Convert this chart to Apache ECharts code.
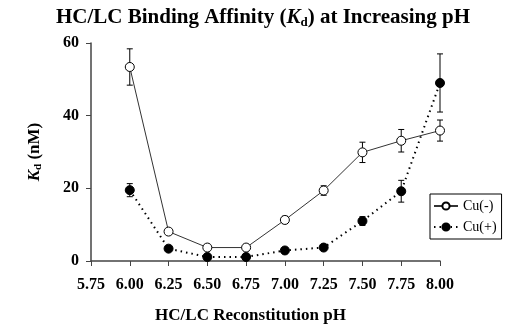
<!DOCTYPE html>
<html>
<head>
<meta charset="utf-8">
<script src="https://cdn.jsdelivr.net/npm/echarts@6/dist/echarts.min.js"></script>
<style>
  html, body { margin: 0; padding: 0; background: #fff; }
  #chart { width: 520px; height: 335px; }
</style>
</head>
<body>
<div id="chart"></div>
<script>
// pH values
var phList = [6.00, 6.25, 6.50, 6.75, 7.00, 7.25, 7.50, 7.75, 8.00];
// Kd (nM) without copper
var cuMinus = [53.4, 8.1, 3.7, 3.7, 11.3, 19.4, 29.9, 33.1, 35.9];
var cuMinusErr = [5.0, 0.6, 0.3, 0.3, 1.0, 1.3, 2.8, 3.1, 2.9];
// Kd (nM) with copper
var cuPlus = [19.5, 3.4, 1.1, 1.1, 2.9, 3.7, 11.0, 19.2, 49.0];
var cuPlusErr = [1.8, 0.3, 0.2, 0.2, 0.3, 0.3, 1.2, 3.0, 8.0];
var yTicks = [0, 20, 40, 60];

var serif = 'Liberation Serif';

function errData(vals, errs) {
  var out = [];
  for (var i = 0; i < phList.length; i++) {
    out.push([phList[i], vals[i] - errs[i], vals[i] + errs[i]]);
  }
  return out;
}

function renderErr(params, api) {
  var lo = api.coord([api.value(0), api.value(1)]);
  var hi = api.coord([api.value(0), api.value(2)]);
  var w = 3;
  var st = { stroke: '#000', lineWidth: 1 };
  return {
    type: 'group',
    children: [
      { type: 'line', shape: { x1: lo[0], y1: lo[1], x2: hi[0], y2: hi[1] }, style: st },
      { type: 'line', shape: { x1: lo[0] - w, y1: lo[1], x2: lo[0] + w, y2: lo[1] }, style: st },
      { type: 'line', shape: { x1: hi[0] - w, y1: hi[1], x2: hi[0] + w, y2: hi[1] }, style: st }
    ]
  };
}

function pairs(vals) {
  return phList.map(function (p, i) { return [p, vals[i]]; });
}

var myChart = echarts.init(document.getElementById('chart'));
var option = {
  backgroundColor: '#fff',
  animation: false,
  textStyle: { fontFamily: serif },
  title: {
    text: 'HC/LC Binding Affinity ({i|K}{s|d}) at Increasing pH',
    left: 258,
    textAlign: 'center',
    top: 1,
    textStyle: {
      fontFamily: serif,
      fontSize: 21,
      fontWeight: 'bold',
      color: '#000',
      rich: {
        i: { fontFamily: serif, fontSize: 21, fontWeight: 'bold', fontStyle: 'italic', color: '#000' },
        s: { fontFamily: serif, fontSize: 13, fontWeight: 'bold', color: '#000', padding: [10, 0, 0, 0] }
      }
    }
  },
  legend: {
    data: ['Cu(-)', 'Cu(+)'],
    orient: 'vertical',
    left: 430,
    top: 194,
    itemWidth: 24,
    itemHeight: 9,
    itemGap: 7,
    padding: [5, 5, 5, 3],
    borderColor: '#000',
    borderWidth: 1,
    textStyle: { fontFamily: serif, fontSize: 14, color: '#000' }
  },
  grid: { left: 91, right: 80, top: 43, bottom: 74 },
  xAxis: {
    type: 'value',
    min: 5.75,
    max: 8.00,
    interval: 0.25,
    name: 'HC/LC Reconstitution pH',
    nameLocation: 'middle',
    nameGap: 46,
    nameTextStyle: { fontFamily: serif, fontSize: 17, fontWeight: 'bold', color: '#000', padding: [0, 30, 0, 0] },
    axisLine: { lineStyle: { color: '#444', width: 1.5 } },
    axisTick: { show: true, length: 5, lineStyle: { color: '#444' } },
    axisLabel: {
      fontFamily: serif, fontSize: 16, fontWeight: 'bold', color: '#000', margin: 16,
      formatter: function (v) { return v.toFixed(2); }
    },
    splitLine: { show: false }
  },
  yAxis: {
    type: 'value',
    min: yTicks[0],
    max: yTicks[yTicks.length - 1],
    interval: 20,
    name: '{i|K}{s|d} (nM)',
    nameLocation: 'middle',
    nameRotate: 90,
    nameGap: 47,
    nameTextStyle: {
      fontFamily: serif, fontSize: 17, fontWeight: 'bold', color: '#000',
      rich: {
        i: { fontFamily: serif, fontSize: 17, fontWeight: 'bold', fontStyle: 'italic', color: '#000' },
        s: { fontFamily: serif, fontSize: 11, fontWeight: 'bold', color: '#000', padding: [8, 0, 0, 0] }
      }
    },
    axisLine: { show: true, lineStyle: { color: '#444', width: 1.5 } },
    axisTick: { show: true, length: 5, lineStyle: { color: '#444' } },
    axisLabel: { fontFamily: serif, fontSize: 16, fontWeight: 'bold', color: '#000', margin: 12 },
    splitLine: { show: false }
  },
  series: [
    {
      type: 'custom',
      renderItem: renderErr,
      data: errData(cuMinus, cuMinusErr),
      encode: { x: 0, y: [1, 2] },
      z: 1
    },
    {
      type: 'custom',
      renderItem: renderErr,
      data: errData(cuPlus, cuPlusErr),
      encode: { x: 0, y: [1, 2] },
      z: 1
    },
    {
      name: 'Cu(-)',
      type: 'line',
      data: pairs(cuMinus),
      symbol: 'circle',
      symbolSize: 9,
      showAllSymbol: true,
      lineStyle: { color: '#333', width: 1, type: 'solid' },
      itemStyle: { color: '#fff', borderColor: '#000', borderWidth: 1 },
      z: 3
    },
    {
      name: 'Cu(+)',
      type: 'line',
      data: pairs(cuPlus),
      symbol: 'circle',
      symbolSize: 9,
      showAllSymbol: true,
      lineStyle: { color: '#000', width: 2, type: [1.5, 4] },
      itemStyle: { color: '#000', borderColor: '#000', borderWidth: 1 },
      z: 3
    }
  ]
};
if (option && typeof option === 'object') {
  myChart.setOption(option, true);
}
</script>
</body>
</html>
